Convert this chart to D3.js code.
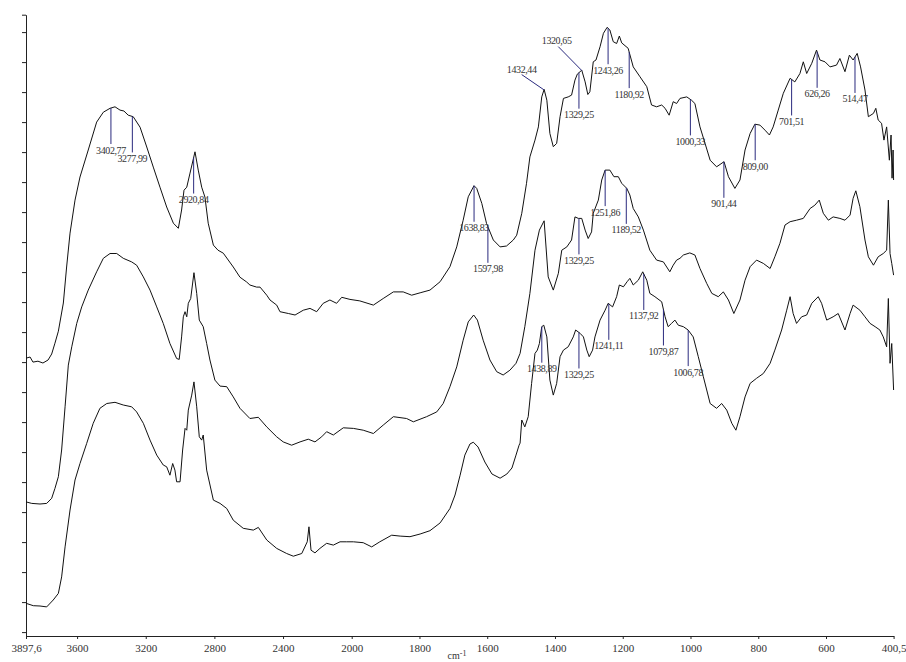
<!DOCTYPE html>
<html>
<head>
<meta charset="utf-8">
<script src="https://cdn.jsdelivr.net/npm/d3@7"></script>
<style>
  html, body { margin: 0; padding: 0; background: #fff; }
  svg { display: block; }
  text { font-family: "Liberation Serif", "Times New Roman", serif; }
</style>
</head>
<body>
<svg id="chart" width="906" height="662"></svg>
<script>
// Three stacked FTIR spectra: [wavenumber cm-1, transmittance (stacked, arbitrary units)]
const spectrumTop = [
  [3897.6,91.3],[3874,91.7],[3857,90.0],[3828,90.3],[3799,89.7],[3769,90.7],[3748,92.7],[3729,96.3],[3709,100.3],[3680,109.7],
  [3661,121.7],[3641,133.0],[3612,144.0],[3583,151.7],[3535,160.7],[3486,170.0],[3447,173.3],[3408,174.6],[3379,175.1],[3350,174.0],
  [3327,173.7],[3302,172.3],[3273,171.8],[3233,168.3],[3194,161.7],[3156,155.0],[3117,148.3],[3078,141.7],[3039,136.3],[3010,134.6],
  [2991,140.7],[2977,147.3],[2961,148.3],[2942,153.0],[2913,160.1],[2894,154.0],[2874,148.3],[2855,145.0],[2836,136.3],[2806,129.0],
  [2779,127.3],[2748,126.3],[2690,121.7],[2651,118.3],[2612,116.7],[2593,115.7],[2554,115.0],[2534,115.0],[2495,112.3],[2476,110.7],
  [2437,109.0],[2418,106.8],[2369,106.2],[2330,105.7],[2282,107.3],[2243,107.9],[2204,106.8],[2166,109.6],[2127,110.7],[2088,109.6],
  [2058,111.6],[2010,110.9],[1976,110.4],[1936,109.0],[1907,111.2],[1877,113.4],[1848,113.4],[1823,112.3],[1798,113.1],[1769,114.0],
  [1739,116.8],[1710,121.8],[1690,128.4],[1671,137.3],[1656,145.1],[1639,148.8],[1631,147.9],[1616,142.9],[1602,136.2],[1582,130.7],
  [1562,128.4],[1543,128.7],[1523,130.7],[1513,132.3],[1498,139.6],[1484,149.6],[1474,158.4],[1459,164.0],[1449,168.4],[1439,178.4],
  [1432,180.9],[1424,177.3],[1415,166.2],[1405,161.8],[1395,162.9],[1385,171.8],[1375,177.9],[1361,178.4],[1351,179.0],[1341,184.0],
  [1334,186.0],[1321,187.3],[1311,183.4],[1303,179.2],[1297,180.1],[1287,190.1],[1279,190.7],[1267,195.1],[1257,199.6],[1246,201.6],
  [1238,200.7],[1228,196.8],[1218,196.2],[1210,198.7],[1203,196.4],[1184,194.6],[1169,188.4],[1149,185.1],[1129,181.8],[1115,175.7],
  [1100,175.1],[1085,175.7],[1075,174.6],[1063,172.3],[1051,176.8],[1041,176.2],[1031,177.9],[1011,178.4],[997,177.3],[987,176.2],
  [972,168.4],[957,162.9],[942,157.3],[923,155.1],[901,156.8],[888,151.8],[869,147.9],[854,150.7],[839,160.7],[824,166.2],
  [810,169.3],[795,169.0],[780,167.3],[767,165.7],[756,168.4],[741,174.0],[726,179.6],[706,184.6],[692,183.4],[677,186.2],
  [667,190.1],[657,186.2],[642,189.6],[628,194.0],[618,190.7],[603,190.1],[588,188.4],[569,189.0],[559,191.2],[544,186.8],
  [531,192.3],[520,190.7],[508,192.9],[498,188.4],[485,180.7],[475,171.8],[460,172.9],[453,174.6],[446,170.7],[436,169.6],
  [429,164.0],[421,168.4],[413,157.3],[408,165.7],[405,151.3],[402,160.7],[400.5,150.7]
];

const spectrumMiddle = [
  [3897.6,43.4],[3864,42.9],[3816,42.7],[3777,42.9],[3748,44.6],[3729,47.9],[3709,51.8],[3690,60.7],[3670,75.1],[3651,89.0],
  [3631,95.1],[3602,102.9],[3573,108.4],[3535,114.0],[3486,120.1],[3447,124.6],[3408,126.2],[3369,126.2],[3331,124.6],[3282,123.4],
  [3253,122.3],[3214,118.4],[3175,114.0],[3136,108.4],[3098,102.9],[3059,96.2],[3020,91.2],[3005,90.9],[2991,98.4],[2981,105.1],
  [2971,106.8],[2961,105.1],[2952,109.6],[2938,111.2],[2919,119.8],[2903,112.9],[2888,104.0],[2865,101.8],[2845,96.2],[2826,90.7],
  [2797,84.0],[2767,82.0],[2728,81.8],[2690,78.4],[2651,74.6],[2593,71.2],[2544,71.6],[2495,68.4],[2437,65.1],[2399,63.4],
  [2350,62.3],[2301,63.4],[2253,64.3],[2214,63.4],[2175,65.1],[2146,66.8],[2107,65.7],[2049,68.1],[1995,67.9],[1966,67.3],
  [1936,66.2],[1907,69.0],[1877,71.8],[1838,71.2],[1818,70.1],[1779,71.8],[1749,73.4],[1730,76.2],[1710,81.8],[1690,88.4],
  [1671,97.3],[1656,103.4],[1640,105.7],[1629,104.0],[1612,97.3],[1592,90.7],[1572,86.8],[1553,85.7],[1533,87.3],[1515,89.6],
  [1503,92.9],[1489,101.8],[1474,112.9],[1459,127.3],[1446,134.0],[1432,137.1],[1420,118.4],[1405,114.0],[1390,119.6],[1380,127.3],
  [1365,128.4],[1351,130.7],[1341,138.4],[1331,137.9],[1321,137.9],[1311,134.0],[1302,131.2],[1292,133.4],[1287,139.6],[1272,144.0],
  [1262,150.7],[1252,154.0],[1238,154.0],[1226,151.8],[1213,151.8],[1203,149.6],[1188,147.9],[1179,145.7],[1169,141.2],[1154,138.4],
  [1139,134.0],[1120,127.3],[1100,124.0],[1080,123.4],[1061,120.1],[1051,122.3],[1041,124.0],[1031,124.6],[1021,125.7],[1002,126.4],
  [987,125.7],[972,121.2],[952,116.2],[937,112.9],[918,111.8],[903,113.4],[888,110.7],[872,106.2],[854,110.7],[839,117.3],
  [824,121.8],[805,124.0],[785,122.9],[765,121.2],[751,125.1],[736,129.6],[721,135.7],[706,136.8],[687,137.3],[667,137.9],
  [647,141.2],[633,142.3],[620,144.0],[608,139.6],[593,137.3],[579,138.4],[559,137.9],[544,137.3],[529,139.0],[520,144.6],
  [512,147.1],[500,141.8],[485,130.7],[475,125.1],[460,122.3],[446,125.1],[431,126.2],[421,127.3],[416,144.0],[411,126.2],
  [406,122.9],[400.5,119.0]
];

const spectrumBottom = [
  [3897.6,9.6],[3855,8.8],[3816,8.7],[3777,8.4],[3739,10.7],[3709,12.9],[3690,18.4],[3670,28.4],[3641,40.7],[3612,50.7],
  [3583,56.2],[3544,62.9],[3506,69.6],[3467,74.6],[3427,76.2],[3379,76.6],[3331,75.7],[3282,75.1],[3253,73.4],[3214,69.6],
  [3175,64.0],[3136,59.0],[3098,55.7],[3078,55.1],[3059,52.3],[3043,56.2],[3030,54.0],[3020,50.1],[3000,50.1],[2985,60.7],
  [2971,67.9],[2961,67.3],[2952,74.0],[2932,79.0],[2919,83.4],[2903,75.1],[2888,65.1],[2874,64.0],[2865,65.7],[2845,54.0],
  [2806,44.0],[2767,42.9],[2728,41.2],[2690,37.3],[2632,34.6],[2573,34.0],[2544,34.9],[2495,30.7],[2437,27.9],[2379,26.2],
  [2340,25.3],[2291,26.2],[2259,30.1],[2249,35.1],[2237,27.3],[2214,26.4],[2185,27.9],[2146,29.6],[2107,29.0],[2068,30.1],
  [2029,30.1],[1995,30.1],[1966,29.8],[1941,28.4],[1917,30.1],[1882,32.3],[1857,32.0],[1828,31.8],[1798,32.7],[1769,33.8],
  [1739,36.4],[1710,41.2],[1695,45.7],[1680,52.3],[1666,59.0],[1651,62.7],[1641,63.3],[1627,61.7],[1607,56.7],[1586,52.7],
  [1562,51.3],[1542,52.7],[1527,54.7],[1515,59.0],[1506,62.3],[1503,63.0],[1498,70.7],[1489,68.4],[1479,71.8],[1469,82.9],
  [1459,92.9],[1452,94.0],[1446,96.2],[1439,101.8],[1433,102.3],[1424,98.4],[1415,84.0],[1405,79.0],[1395,82.9],[1385,91.8],
  [1375,94.0],[1361,95.1],[1346,98.4],[1339,100.7],[1326,99.6],[1316,98.4],[1306,94.0],[1299,91.8],[1289,94.0],[1282,98.4],
  [1267,104.0],[1252,107.3],[1243,109.6],[1230,108.4],[1218,111.8],[1210,115.7],[1198,115.1],[1187,116.8],[1179,117.9],[1169,115.7],
  [1154,117.3],[1141,120.1],[1129,117.3],[1120,112.9],[1105,111.8],[1085,110.1],[1075,105.1],[1066,101.8],[1056,102.9],[1046,104.0],
  [1036,102.3],[1021,101.8],[1007,100.7],[992,98.4],[977,91.8],[962,85.1],[942,76.2],[923,74.6],[908,76.2],[893,74.0],
  [878,69.6],[866,67.3],[854,71.8],[839,78.4],[824,82.9],[805,84.6],[785,86.2],[765,89.6],[751,94.0],[731,100.7],
  [716,107.3],[706,111.8],[697,106.2],[687,102.9],[672,105.1],[657,105.7],[642,109.6],[623,111.8],[613,109.6],[598,104.0],
  [579,105.1],[564,106.2],[544,100.7],[529,106.2],[520,109.0],[500,107.3],[485,105.1],[470,102.9],[455,101.8],[441,100.7],
  [431,98.4],[421,95.1],[416,111.2],[411,89.6],[406,96.2],[400.5,80.7]
];

// x-axis tick values (cm-1); the scale changes at 2000 cm-1
const xTicks = [3897.6, 3600, 3200, 2800, 2400, 2000, 1800, 1600, 1400, 1200, 1000, 800, 600, 400.5];

// picked peaks, labelled below each spectrum
const peaksTop = [3402.77, 3277.99, 2920.84, 1638.83, 1597.98, 1329.25, 1243.26, 1180.92, 1000.33, 901.44, 809.00, 701.51, 626.26, 514.47];
const peaksMiddle = [1329.25, 1251.86, 1189.52];
const peaksBottom = [1438.89, 1329.25, 1241.11, 1137.92, 1079.87, 1006.78];
// peaks labelled above-left with a leader line
const calloutsTop = [1432.44, 1320.65];

const svg = d3.select("#chart");

const x = d3.scaleLinear()
  .domain([3897.6, 2000, 400.5])
  .range([26, 351.7, 893.6]);

const y = d3.scaleLinear()
  .domain([-1.3, 205.8])
  .range([636, 14.7]);

const commaFmt = (v, digits) => v.toFixed(digits).replace(".", ",");
const tickFmt = d => Number.isInteger(d) ? String(d) : commaFmt(d, 1);

// value of a spectrum at an arbitrary wavenumber (linear interpolation)
function valueAt(series, wn) {
  for (let i = 0; i < series.length - 1; i++) {
    const a = series[i], b = series[i + 1];
    if (wn <= a[0] && wn >= b[0]) {
      const t = (a[0] - wn) / (a[0] - b[0]);
      return a[1] + t * (b[1] - a[1]);
    }
  }
  return series[series.length - 1][1];
}

// axes
const axisColor = "#222";
const gx = svg.append("g")
  .attr("transform", `translate(0,${y(y.domain()[0])})`)
  .call(d3.axisBottom(x).tickValues(xTicks).tickFormat(tickFmt)
    .tickSize(3).tickPadding(5).tickSizeOuter(0));
gx.selectAll("path,line").attr("stroke", axisColor);
gx.selectAll("text")
  .attr("font-family", '"Liberation Serif", "Times New Roman", serif')
  .attr("font-size", 11)
  .attr("fill", "#333");

const yTicks = d3.range(0, 201, 10).concat([y.domain()[1]]);
const gy = svg.append("g")
  .attr("transform", `translate(${x(xTicks[0])},0)`)
  .call(d3.axisLeft(y).tickValues(yTicks).tickFormat("").tickSize(4).tickSizeOuter(0));
gy.selectAll("path,line").attr("stroke", axisColor);

// x-axis title
const title = svg.append("text")
  .attr("x", 457).attr("y", 659)
  .attr("text-anchor", "middle")
  .attr("font-size", 10)
  .attr("fill", "#333");
title.append("tspan").text("cm");
title.append("tspan").attr("dy", -3).attr("font-size", 8).text("-1");

// spectra
const line = d3.line().x(d => x(d[0])).y(d => y(d[1]));
const spectra = [spectrumTop, spectrumMiddle, spectrumBottom];
svg.append("g").selectAll("path")
  .data(spectra)
  .join("path")
  .attr("d", line)
  .attr("fill", "none")
  .attr("stroke", "#111")
  .attr("stroke-width", 1)
  .attr("stroke-linejoin", "round");

// peak markers
const markColor = "#2a2a7e";
const labelColor = "#333";
const tickLen = 36;
const peakSets = [
  { series: spectrumTop, peaks: peaksTop },
  { series: spectrumMiddle, peaks: peaksMiddle },
  { series: spectrumBottom, peaks: peaksBottom }
];
const gPeaks = svg.append("g");
peakSets.forEach(set => {
  set.peaks.forEach(wn => {
    const px = x(wn);
    const py = y(valueAt(set.series, wn));
    gPeaks.append("line")
      .attr("x1", px).attr("x2", px)
      .attr("y1", py).attr("y2", py + tickLen)
      .attr("stroke", markColor).attr("stroke-width", 1);
    gPeaks.append("text")
      .attr("x", px).attr("y", py + tickLen + 9.5)
      .attr("text-anchor", "middle")
      .attr("font-size", 10)
      .attr("letter-spacing", -0.4)
      .attr("fill", labelColor)
      .text(commaFmt(wn, 2));
  });
});

// callout labels with leader lines (offsets from the peak, in px)
const calloutLayout = {
  1432.44: { lx: -22.3, ly: -15.3, tx: -22.3, ty: -17.3 },
  1320.65: { lx: -23.6, ly: -24.0, tx: -25.2, ty: -26.3 }
};
calloutsTop.forEach(wn => {
  const px = x(wn);
  const py = y(valueAt(spectrumTop, wn));
  const o = calloutLayout[wn];
  gPeaks.append("line")
    .attr("x1", px).attr("y1", py)
    .attr("x2", px + o.lx).attr("y2", py + o.ly)
    .attr("stroke", markColor).attr("stroke-width", 1);
  gPeaks.append("text")
    .attr("x", px + o.tx).attr("y", py + o.ty)
    .attr("text-anchor", "middle")
    .attr("font-size", 10)
    .attr("letter-spacing", -0.4)
    .attr("fill", labelColor)
    .text(commaFmt(wn, 2));
});
</script>
</body>
</html>
